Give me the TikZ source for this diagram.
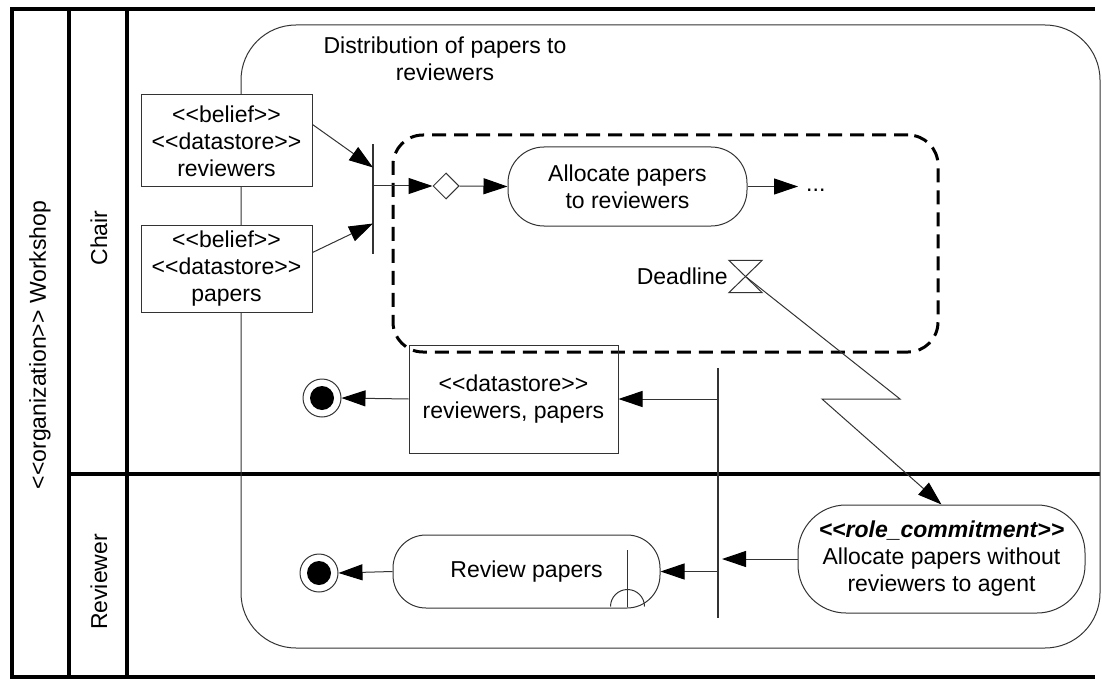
\documentclass[tikz,border=0pt]{standalone}
\usepackage{fontspec}
\setmainfont{Liberation Sans}
\usetikzlibrary{arrows.meta,shapes.geometric,calc}
% guillemet-free double angle brackets
\newcommand\stl{<\kern0pt<}
\newcommand\stg{>\kern0pt>}
\begin{document}
\begin{tikzpicture}[x=1pt,y=-1pt,
  base/.style={font=\fontsize{23}{27}\selectfont, text=black, align=center},
  thin/.style={draw=black!80, line width=1pt},
  lane/.style={draw=black, line width=4.5pt, line join=miter},
  arr/.style={thin, -{Triangle[length=24pt,width=16pt,color=black,fill=black]}},
  store/.style={base, thin, rectangle, inner sep=0pt},
  action/.style={base, thin, rectangle, inner sep=0pt},
  bar/.style={thin, fill=black!80, rectangle, inner sep=0pt, minimum width=0.6pt},
  final/.style={circle, thin, inner sep=0pt, minimum size=38pt,
    path picture={\fill[black] (path picture bounding box.center) circle (12pt);}},
  lbl/.style={base, rotate=90},
]
\useasboundingbox (0,0) rectangle (1102,679);

% swimlane frame
\draw[lane] (1095,9) -- (12,9) -- (12,677) -- (1095,677);
\draw[lane] (69,9) -- (69,677);
\draw[lane] (127,9) -- (127,677);
\draw[lane] (69,474) -- (1100,474);

\node[lbl] (org) at (40,345) {\stl organization\stg\ Workshop};
\node[lbl] (chair) at (99,238) {Chair};
\node[lbl] (reviewer) at (99,582) {Reviewer};

% activity
\node[thin, rectangle, rounded corners=55pt, minimum width=859pt, minimum height=623pt] (act) at (670.5,336.5) {};
\node[base] (title) at (445,59) {Distribution of papers to\\reviewers};

% interruptible region
\node[draw=black, line width=3pt, dash pattern=on 14pt off 8pt, rectangle, rounded corners=30pt,
      minimum width=545pt, minimum height=217pt] (intr) at (665.5,243.5) {};

% object nodes
\node[store, fill=white, minimum width=171pt, minimum height=92pt] (bel1) at (226.5,141)
  {\stl belief\stg\\\stl datastore\stg\\reviewers};
\node[store, fill=white, minimum width=171pt, minimum height=87pt] (bel2) at (226.5,268.5)
  {\stl belief\stg\\\stl datastore\stg\\papers};
\node[store, minimum width=209pt, minimum height=108pt] (ds) at (513.5,399)
  {\stl datastore\stg\\reviewers, papers};

% control nodes
\node[bar, minimum height=108pt] (fork1) at (373,199) {};
\node[bar, minimum height=249pt] (fork2) at (718,492.5) {};
\node[thin, diamond, aspect=1, inner sep=0pt, minimum width=26pt, minimum height=26pt] (dec) at (446,186) {};
\node[final] (fin1) at (322,398) {};
\node[final] (fin2) at (319,573) {};

% actions
\node[action, rounded corners=36pt, minimum width=239pt, minimum height=79pt] (alloc) at (627.5,186.5)
  {Allocate papers\\to reviewers};
\node[base, anchor=base west, inner sep=0pt] (dots) at (806,192) {...};
\node[action, rounded corners=33pt, minimum width=267pt, minimum height=73pt] (rev) at (526.5,571.5)
  {Review papers};
\node[action, rounded corners=48pt, minimum width=287pt, minimum height=108pt] (role) at (941.5,559)
  {\textbf{\textit{\stl role\_commitment\stg}}\\Allocate papers without\\reviewers to agent};

% call-behaviour mark on the review action
\draw[thin] ($(rev.east)+(-33,-21.5)$) -- ($(rev.east)+(-33,35)$);
\draw[thin] ($(rev.east)+(-50,35)$) arc[start angle=180, end angle=0, radius=17pt];

% time event
\node[minimum width=33pt, minimum height=32pt, inner sep=0pt] (hg) at (745.5,276.5) {};
\draw[thin] (hg.north west) -- (hg.north east) -- (hg.south west) -- (hg.south east) -- cycle;
\node[base, anchor=east, inner sep=1pt] (dltxt) at (hg.west) {Deadline};

% flows
\draw[arr] ($(bel1.north east)+(0,30)$) -- ($(fork1.north)+(0,23)$);
\draw[arr] ($(bel2.north east)+(0,28)$) -- ($(fork1.south)+(0,-30)$);
\draw[arr] (fork1 |- dec) -- (dec.west);
\draw[arr] (dec.east) -- (alloc.west);
\draw[arr] (alloc.east) -- ($(alloc.east -| dots.west)+(-8,0)$);
\coordinate (zz1) at (900,399);
\coordinate (zz2) at (822,399);
\draw[arr] (hg.center) -- (zz1) -- (zz2) -- (role.north);
\draw[arr] (fork2 |- ds.east) -- (ds.east);
\draw[arr] (ds.west) -- (fin1.east);
\draw[arr] (fork2 |- rev.east) -- (rev.east);
\draw[arr] (rev.west) -- (fin2.east);
\draw[arr] (role.west) -- ($(role.west -| fork2)+(4,0)$);
\end{tikzpicture}
\end{document}
